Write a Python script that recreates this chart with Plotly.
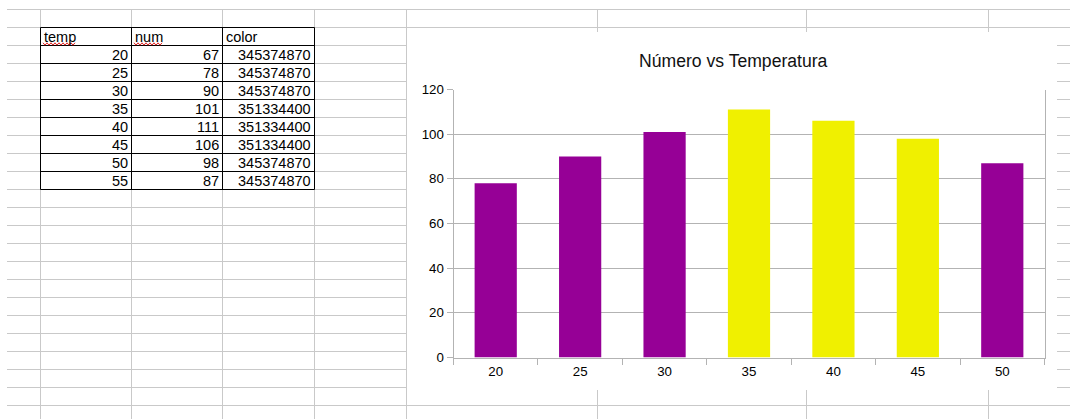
import plotly.graph_objects as go

W, H = 1070, 419

# ---- spreadsheet table data ----
table_header = ["temp", "num", "color"]
table_temp = [20, 25, 30, 35, 40, 45, 50, 55]
table_num = [67, 78, 90, 101, 111, 106, 98, 87]
table_color = [345374870, 345374870, 345374870, 351334400,
               351334400, 351334400, 345374870, 345374870]

# ---- chart data ----
chart_title = "Número vs Temperatura"
chart_temp = ["20", "25", "30", "35", "40", "45", "50"]
chart_num = [78, 90, 101, 111, 106, 98, 87]
chart_color = [345374870, 345374870, 345374870, 351334400,
               351334400, 351334400, 345374870]
y_ticks = [0, 20, 40, 60, 80, 100, 120]


def to_rgb(v):
    v &= 0xFFFFFF
    return f"rgb({(v >> 16) & 255},{(v >> 8) & 255},{v & 255})"


def px(x):
    return x / W


def py(y):
    return 1 - y / H


FONT = "Liberation Sans"
GRID = "#c9c9c9"
AX = "#b3b3b3"

shapes = []


def line(x0, y0, x1, y1, color, width=1, layer="below"):
    shapes.append(dict(type="line", xref="paper", yref="paper",
                       x0=px(x0), y0=py(y0), x1=px(x1), y1=py(y1),
                       line=dict(color=color, width=width), layer=layer))


# spreadsheet grid
row_top, row_h, n_rows = 9.5, 18, 23
col_lines = [40.5, 131.5, 222.5, 314.5, 406.5, 597.5, 806.5, 988.5]
for k in range(n_rows):
    y = row_top + k * row_h
    line(7, y, W, y, GRID)
for x in col_lines:
    line(x, row_top, x, H, GRID)

# chart object background (covers the sheet grid)
shapes.append(dict(type="rect", xref="paper", yref="paper",
                   x0=px(407), x1=px(1057), y0=py(32), y1=py(390),
                   fillcolor="white", line=dict(width=0), layer="below"))

# table borders
t_cols = [40.5, 131.5, 222.5, 314.5]
t_top = 27.5
n_t = len(table_temp) + 1
for k in range(n_t + 1):
    y = t_top + k * row_h
    line(t_cols[0], y, t_cols[-1], y, "#000000", 1, "above")
for x in t_cols:
    line(x, t_top, x, t_top + n_t * row_h, "#000000", 1, "above")


# spell-check squiggles under header words
def squiggle(x0, x1, y):
    pts = []
    x = x0
    up = True
    while x <= x1:
        pts.append((x, y - 1.2 if up else y + 1.2))
        up = not up
        x += 2
    path = "M " + " L ".join(f"{px(a):.6f},{py(b):.6f}" for a, b in pts)
    shapes.append(dict(type="path", xref="paper", yref="paper", path=path,
                       line=dict(color="#e02020", width=1), layer="above"))


squiggle(43, 75, 44)
squiggle(134, 163, 44)

annotations = []


def text(x, y, s, anchor, size=14.5, color="#000000"):
    annotations.append(dict(x=px(x), y=py(y), xref="paper", yref="paper",
                            text=s, showarrow=False, xanchor=anchor,
                            yanchor="middle",
                            font=dict(family=FONT, size=size, color=color)))


# header
for j, h in enumerate(table_header):
    text(t_cols[j] + 1.5, t_top + row_h / 2 + 0.5, h, "left")
# rows
for i in range(len(table_temp)):
    yc = t_top + (i + 1) * row_h + row_h / 2 + 0.5
    vals = [table_temp[i], table_num[i], table_color[i]]
    for j, v in enumerate(vals):
        text(t_cols[j + 1] - 1.5, yc, str(v), "right")

# chart title
text(733.5, 60.5, chart_title, "center", size=17.6, color="#111111")

fig = go.Figure()
fig.add_trace(go.Bar(
    x=chart_temp, y=chart_num,
    marker=dict(color=[to_rgb(c) for c in chart_color], line=dict(width=0)),
    hoverinfo="x+y",
))

fig.update_layout(
    width=W, height=H, autosize=False,
    margin=dict(l=0, r=0, t=0, b=0, pad=0, autoexpand=False),
    paper_bgcolor="white", plot_bgcolor="rgba(0,0,0,0)",
    showlegend=False, bargap=0.5,
    font=dict(family=FONT, size=13.3, color="#000000"),
    shapes=shapes, annotations=annotations,
    xaxis=dict(domain=[px(453.5), px(1044.5)], type="category",
               categoryorder="array", categoryarray=chart_temp,
               range=[-0.5, len(chart_temp) - 0.5], automargin=False,
               tickson="boundaries", ticks="outside", ticklen=6,
               tickcolor=AX, tickwidth=1, showline=True, linecolor=AX,
               linewidth=1, showgrid=False, zeroline=False,
               ticklabelstandoff=2,
               tickfont=dict(family=FONT, size=13.3, color="#000000")),
    yaxis=dict(domain=[py(357.5), py(89.5)], range=[0, 120],
               automargin=False,
               tickmode="array", tickvals=y_ticks, ticks="outside",
               ticklen=6, tickcolor=AX, tickwidth=1, showgrid=True,
               gridcolor=AX, gridwidth=1, showline=True, linecolor=AX,
               linewidth=1, mirror=True, zeroline=False,
               tickfont=dict(family=FONT, size=13.3, color="#000000")),
)

fig.write_html("out.html",
               config={"displayModeBar": False, "staticPlot": True},
               post_script="document.body.style.margin='0';"
                           "document.body.style.overflow='hidden';"
                           "window.scrollTo(0,0);")
